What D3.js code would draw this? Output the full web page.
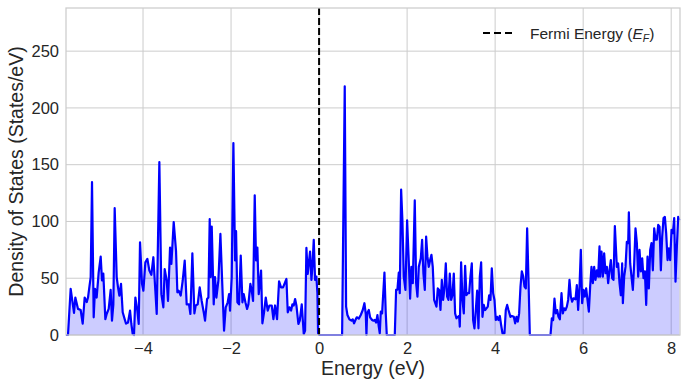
<!DOCTYPE html>
<html>
<head>
<meta charset="utf-8">
<script src="https://cdn.jsdelivr.net/npm/d3@7"></script>
<style>
  body { margin: 0; background: #fff; }
  text { font-family: "Liberation Sans", Arial, sans-serif; fill: #262626; }
</style>
</head>
<body>
<div id="graphContainer"></div>
<script>
// Density of states, energy in eV

var energy = [
  -5.75, -5.705, -5.644, -5.568, -5.538, -5.477, -5.417, -5.371, -5.326, -5.28, -5.25, -5.22, -5.189, -5.159, -5.121, -5.091,
  -5.053, -5.008, -4.962, -4.932, -4.902, -4.856, -4.826, -4.78, -4.735, -4.705, -4.674, -4.644, -4.598, -4.568, -4.538, -4.5,
  -4.462, -4.417, -4.386, -4.341, -4.295, -4.265, -4.235, -4.205, -4.174, -4.129, -4.098, -4.068, -4.023, -3.992, -3.947, -3.901,
  -3.856, -3.811, -3.765, -3.72, -3.689, -3.629, -3.583, -3.538, -3.508, -3.462, -3.432, -3.386, -3.356, -3.303, -3.25, -3.22,
  -3.189, -3.144, -3.098, -3.053, -3.008, -3.0, -2.955, -2.924, -2.879, -2.833, -2.803, -2.758, -2.712, -2.667, -2.621, -2.591,
  -2.545, -2.515, -2.485, -2.462, -2.439, -2.394, -2.364, -2.333, -2.288, -2.242, -2.197, -2.159, -2.121, -2.076, -2.045, -2.023,
  -1.985, -1.947, -1.909, -1.886, -1.856, -1.818, -1.78, -1.742, -1.712, -1.674, -1.636, -1.606, -1.561, -1.53, -1.5, -1.462,
  -1.432, -1.402, -1.371, -1.318, -1.288, -1.25, -1.212, -1.167, -1.129, -1.076, -1.038, -1.0, -0.955, -0.909, -0.864, -0.818,
  -0.742, -0.712, -0.674, -0.636, -0.606, -0.576, -0.545, -0.515, -0.47, -0.439, -0.394, -0.348, -0.318, -0.288, -0.258, -0.212,
  -0.205, -0.174, -0.152, -0.121, -0.091, -0.061, -0.038, -0.023, 0.008, 0.523, 0.583, 0.614, 0.644, 0.689, 0.735, 0.765,
  0.795, 0.826, 0.856, 0.902, 0.947, 0.992, 1.03, 1.061, 1.076, 1.091, 1.129, 1.159, 1.205, 1.235, 1.265, 1.295,
  1.326, 1.356, 1.379, 1.402, 1.432, 1.485, 1.515, 1.538, 1.72, 1.75, 1.78, 1.811, 1.833, 1.864, 1.894, 1.924,
  1.962, 2.0, 2.038, 2.068, 2.098, 2.129, 2.174, 2.205, 2.235, 2.265, 2.311, 2.341, 2.371, 2.402, 2.432, 2.462,
  2.492, 2.523, 2.553, 2.583, 2.614, 2.667, 2.697, 2.727, 2.758, 2.788, 2.818, 2.848, 2.879, 2.909, 2.939, 2.97,
  3.0, 3.03, 3.061, 3.091, 3.121, 3.152, 3.182, 3.197, 3.227, 3.258, 3.288, 3.318, 3.348, 3.379, 3.409, 3.439,
  3.47, 3.5, 3.53, 3.561, 3.591, 3.621, 3.652, 3.682, 3.712, 3.742, 3.773, 3.803, 3.833, 3.864, 3.894, 3.924,
  3.955, 3.985, 4.015, 4.045, 4.076, 4.106, 4.136, 4.167, 4.212, 4.242, 4.273, 4.303, 4.348, 4.379, 4.424, 4.455,
  4.485, 4.515, 4.545, 4.576, 4.606, 4.636, 4.667, 4.697, 4.727, 4.758, 4.788, 5.258, 5.288, 5.318, 5.348, 5.379,
  5.409, 5.439, 5.47, 5.508, 5.538, 5.568, 5.598, 5.629, 5.659, 5.689, 5.72, 5.75, 5.78, 5.826, 5.856, 5.886,
  5.917, 5.947, 5.977, 6.008, 6.038, 6.068, 6.098, 6.129, 6.159, 6.189, 6.22, 6.25, 6.28, 6.311, 6.341, 6.371,
  6.386, 6.417, 6.447, 6.477, 6.508, 6.538, 6.568, 6.598, 6.629, 6.659, 6.689, 6.72, 6.765, 6.795, 6.826, 6.856,
  6.886, 6.902, 6.932, 6.962, 6.992, 7.023, 7.038, 7.068, 7.098, 7.129, 7.159, 7.189, 7.22, 7.25, 7.28, 7.311,
  7.341, 7.371, 7.402, 7.432, 7.462, 7.492, 7.523, 7.553, 7.583, 7.614, 7.644, 7.674, 7.705, 7.735, 7.765, 7.795,
  7.826, 7.856, 7.886, 7.917, 7.947, 7.977, 8.008, 8.038, 8.068, 8.098, 8.129, 8.159, 8.189
];

var dos = [
  0, 0, 40.6, 19.4, 33, 23, 22, 10, 33, 29, 33, 42, 51, 134.6, 15.6, 40.6,
  33, 55, 69, 48, 54, 14, 18.5, 23, 39.7, 12.6, 27, 111.7, 51, 42, 34.7, 45,
  20, 14, 10, 11, 21.5, 9.7, 0.9, 0, 33, 21.5, 9.7, 81.7, 45, 39, 64, 67,
  56.7, 53, 68.5, 39, 18.5, 152.3, 36, 24.4, 58, 48, 30, 77, 62.6, 99.4, 74, 37.6,
  39, 34.7, 48, 65.6, 27, 27, 27, 18.5, 72, 19, 26, 27, 42, 30, 20, 12.6,
  31.7, 33, 102, 51, 95.5, 27, 51, 33, 48, 89, 42, 3.8, 24.4, 28.8, 36, 21.5,
  51, 169, 65.6, 91.4, 28.8, 27, 70, 28.8, 36, 28.8, 23, 27, 45, 39, 30, 123,
  65.6, 77, 36, 56.7, 10.3, 20, 33, 21.5, 26, 26, 14, 26, 14, 47.3, 42, 42,
  49.4, 20, 24.4, 21.5, 27, 26, 31.7, 26, 9.7, 12.6, 27, 0.9, 3.8, 76.7, 53.8, 71,
  73.5, 48.5, 60, 83.8, 48.5, 51.4, 36.8, 1.5, 0, 0, 219, 25, 17.6, 13.8, 12.6, 13.8,
  10.3, 13.2, 15.6, 14.4, 17.6, 22, 28, 18.5, 0, 19, 22, 15.6, 13.2, 12.6, 13.2, 10.9,
  17.6, 7.4, 1.5, 20.6, 19, 55, 19, 0, 0, 39.7, 40, 55, 36.8, 128, 100, 51.4,
  39.7, 101, 64.7, 32, 60, 45.6, 118.5, 45.6, 33.8, 60, 67.6, 83.8, 54, 39.7, 86.7, 69,
  60, 66, 70.6, 60, 30.9, 25, 41, 39.7, 22, 48.5, 30.9, 41, 63, 33.8, 30.9, 54,
  30.9, 35, 54, 19, 14.7, 16, 16.8, 7.4, 64, 30.9, 19, 61, 35, 36.8, 36.8, 51.4,
  63, 13.2, 5.9, 22, 39, 5.9, 51.4, 64, 16, 26.5, 22, 23.5, 25, 35, 30.9, 58.8,
  36.8, 30.9, 13.2, 16, 13.2, 16.8, 8.8, 1.5, 1.5, 22, 26.5, 22, 16, 16.8, 16, 10.3,
  16, 11.8, 19, 42.6, 56, 52, 42.6, 41, 94, 48.5, 0, 0, 14.7, 13.2, 32, 19,
  22, 16, 13.8, 36.8, 19, 23.5, 22, 25, 30.9, 48.5, 33.8, 29.4, 32.3, 31.5, 44, 22,
  42.6, 75, 28, 39.7, 33.8, 41, 30.9, 20.6, 42.6, 60, 45.6, 60, 48.5, 57, 51.4, 78,
  51.4, 73.5, 51.4, 72, 54.4, 60, 45.6, 57, 66, 50, 48.5, 96, 60, 63, 45.6, 35,
  63, 28, 51.4, 60, 82, 81, 108, 63, 51.4, 39.7, 63, 94, 81, 51.4, 75, 56,
  67.6, 50, 56, 26.5, 69, 41, 75, 81, 57, 94, 84, 84, 97, 95.5, 57, 86.7,
  103, 104, 89.7, 66, 76.4, 66, 92.6, 89.7, 103, 47, 78, 104, 101
];

var xTicks = [-4, -2, 0, 2, 4, 6, 8];
var yTicks = [0, 50, 100, 150, 200, 250];
var xDomain = [-5.75, 8.2];
var yDomain = [0, 288];
var fermiEnergy = 0;

var width = 689, height = 383;
var margin = {top: 8, right: 9, bottom: 48, left: 66};

var svg = d3.select("#graphContainer")
    .append("svg")
    .attr("width", width)
    .attr("height", height);

var xScale = d3.scaleLinear()
    .domain(xDomain)
    .range([margin.left, width - margin.right]);

var yScale = d3.scaleLinear()
    .domain(yDomain)
    .range([height - margin.bottom, margin.top]);

// grid lines first so everything else sits on top
svg.append("g")
    .selectAll("line")
    .data(xTicks)
    .join("line")
    .attr("x1", d => xScale(d))
    .attr("x2", d => xScale(d))
    .attr("y1", margin.top)
    .attr("y2", height - margin.bottom)
    .attr("stroke", "#cccccc")
    .attr("stroke-width", 1);

svg.append("g")
    .selectAll("line")
    .data(yTicks)
    .join("line")
    .attr("x1", margin.left)
    .attr("x2", width - margin.right)
    .attr("y1", d => yScale(d))
    .attr("y2", d => yScale(d))
    .attr("stroke", "#cccccc")
    .attr("stroke-width", 1);

var points = energy.map((e, i) => [e, dos[i]]);

var area = d3.area()
    .x(d => xScale(d[0]))
    .y0(yScale(0))
    .y1(d => yScale(d[1]));

var line = d3.line()
    .x(d => xScale(d[0]))
    .y(d => yScale(d[1]));

svg.append("path")
    .datum(points)
    .attr("d", area)
    .attr("fill", "#0000ff")
    .attr("fill-opacity", 0.2);

svg.append("path")
    .datum(points)
    .attr("d", line)
    .attr("fill", "none")
    .attr("stroke", "#0000ff")
    .attr("stroke-width", 2.2)
    .attr("stroke-linejoin", "round");

// Fermi level
svg.append("line")
    .attr("x1", xScale(fermiEnergy))
    .attr("x2", xScale(fermiEnergy))
    .attr("y1", margin.top)
    .attr("y2", height - margin.bottom)
    .attr("stroke", "#000")
    .attr("stroke-width", 2)
    .attr("stroke-dasharray", "7,3");

// frame
svg.append("rect")
    .attr("x", margin.left)
    .attr("y", margin.top)
    .attr("width", width - margin.left - margin.right)
    .attr("height", height - margin.top - margin.bottom)
    .attr("fill", "none")
    .attr("stroke", "#cccccc")
    .attr("stroke-width", 1.25);

var xAxis = d3.axisBottom(xScale).tickValues(xTicks).tickSize(0).tickPadding(7);
svg.append("g")
    .attr("id", "x-axis")
    .attr("transform", `translate(0, ${height - margin.bottom})`)
    .call(xAxis)
    .call(g => g.select(".domain").remove())
    .selectAll("text")
    .attr("font-size", 16.5)
    .attr("font-family", "Liberation Sans, Arial, sans-serif")
    .attr("fill", "#262626");

var yAxis = d3.axisLeft(yScale).tickValues(yTicks).tickSize(0).tickPadding(7);
svg.append("g")
    .attr("id", "y-axis")
    .attr("transform", `translate(${margin.left}, 0)`)
    .call(yAxis)
    .call(g => g.select(".domain").remove())
    .selectAll("text")
    .attr("font-size", 16.5)
    .attr("font-family", "Liberation Sans, Arial, sans-serif")
    .attr("fill", "#262626");

svg.append("text")
    .attr("x", (margin.left + width - margin.right) / 2)
    .attr("y", 375)
    .attr("text-anchor", "middle")
    .attr("font-size", 19.5)
    .text("Energy (eV)");

svg.append("text")
    .attr("transform", `translate(23, ${(margin.top + height - margin.bottom) / 2}) rotate(-90)`)
    .attr("text-anchor", "middle")
    .attr("font-size", 19.5)
    .text("Density of States (States/eV)");

// legend
var legend = svg.append("g").attr("transform", "translate(483, 33)");
legend.append("line")
    .attr("x1", 0)
    .attr("x2", 30)
    .attr("stroke", "#000")
    .attr("stroke-width", 2)
    .attr("stroke-dasharray", "7,4");
var lt = legend.append("text")
    .attr("x", 47)
    .attr("y", 5.5)
    .attr("font-size", 15.5);
lt.append("tspan").text("Fermi Energy (");
lt.append("tspan").attr("font-style", "italic").text("E");
lt.append("tspan").attr("font-style", "italic").attr("font-size", 10.5).attr("dy", 3).text("F");
lt.append("tspan").attr("dy", -3).text(")");
</script>
</body>
</html>
